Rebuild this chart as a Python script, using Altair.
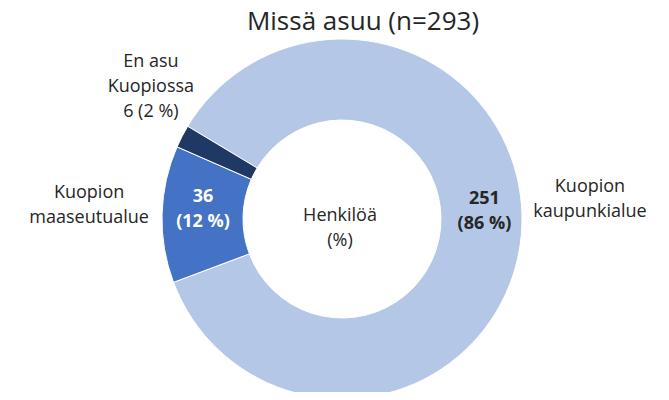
import math
import altair as alt
import pandas as pd

# ---- data -------------------------------------------------------------
categories = ["Kuopion kaupunkialue", "Kuopion maaseutualue", "En asu Kuopiossa"]
counts = [251, 36, 6]
percents = [86, 12, 2]
outer_labels = ["Kuopion\nkaupunkialue", "Kuopion\nmaaseutualue", "En asu\nKuopiossa\n6 (2 %)"]
inner_labels = ["251\n(86 %)", "36\n(12 %)", ""]
colors = ["#B4C7E7", "#4472C4", "#203864"]
title_text = "Missä asuu (n=293)"
center_text = "Henkilöä\n(%)"

total = sum(counts)
ends, run = [], 0
for c in counts:
    run += c
    ends.append(run)
starts = [e - c for e, c in zip(ends, counts)]
mids = [s + c / 2 for s, c in zip(starts, counts)]

df = pd.DataFrame({
    "category": categories,
    "count": counts,
    "start": starts,
    "end": ends,
    "mid": mids,
    "outer": outer_labels,
    "inner": inner_labels,
})

# ---- layout -----------------------------------------------------------
start_angle = math.radians(301)
theta_scale = alt.Scale(domain=[0, total], range=[start_angle, start_angle + 2 * math.pi])
cx, cy = 334, 171
FONT = "Open Sans"
TXT = "#262626"

base = alt.Chart(df).encode(x=alt.value(cx), y=alt.value(cy))

arcs = base.mark_arc(innerRadius=99, outerRadius=180, stroke="white", strokeWidth=1).encode(
    theta=alt.Theta("start:Q", scale=theta_scale),
    theta2="end:Q",
    color=alt.Color("category:N", scale=alt.Scale(domain=categories, range=colors), legend=None),
)

def label(cat, field, radius, dx, dy, color=TXT, weight="normal"):
    return base.transform_filter(alt.datum.category == cat).mark_text(
        radius=radius, dx=dx, dy=dy, lineBreak="\n", font=FONT, fontSize=18,
        fontWeight=weight, color=color, align="center", baseline="middle", lineHeight=25,
    ).encode(theta=alt.Theta("mid:Q", scale=theta_scale), text=f"{field}:N")

title_layer = alt.Chart(pd.DataFrame({"t": [title_text]})).mark_text(
    font=FONT, fontSize=26, color=TXT, align="center", baseline="alphabetic",
).encode(text="t:N", x=alt.value(cx + 21), y=alt.value(-18))

layers = [
    arcs,
    label(categories[0], "inner", 140, 3, -33, weight="bold"),
    label(categories[1], "inner", 140, 1, -18, color="white", weight="bold"),
    label(categories[0], "outer", 248, 1, -54),
    label(categories[1], "outer", 253, 0, -19),
    label(categories[2], "outer", 232, 15, -51),
    alt.Chart(pd.DataFrame({"t": [center_text]})).mark_text(
        lineBreak="\n", font=FONT, fontSize=18, color=TXT, lineHeight=25,
        align="center", baseline="middle", dx=-2, dy=-3,
    ).encode(text="t:N", x=alt.value(cx), y=alt.value(cy)),
    title_layer,
]

chart = alt.layer(*layers).properties(
    width=653, height=344,
    autosize=alt.AutoSizeParams(type="none"),
    padding={"top": 40, "left": 0, "right": 0, "bottom": 0},
).configure_view(stroke=None)

chart.save("out.html", embed_options={"renderer": "svg", "actions": False})
